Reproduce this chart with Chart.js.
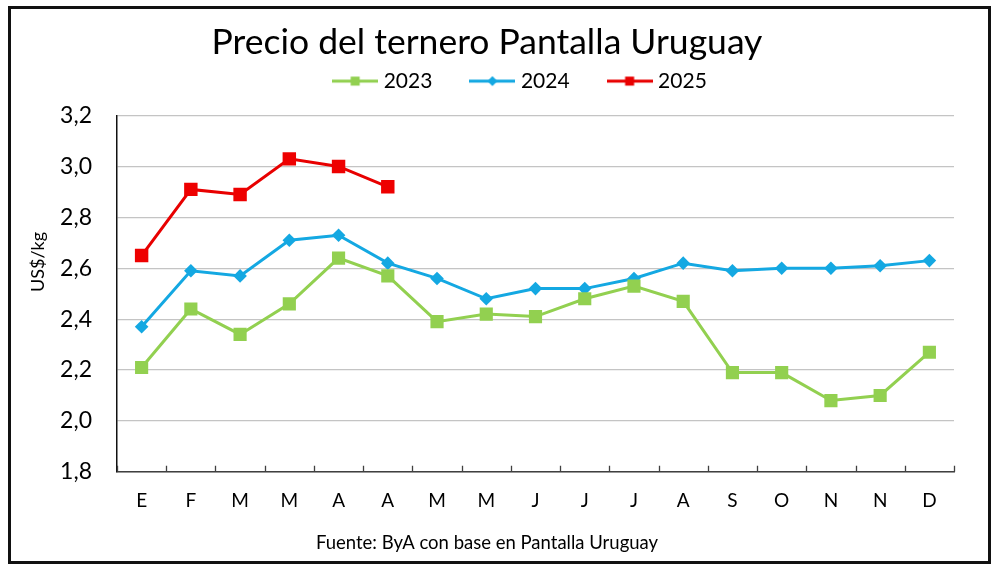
<!DOCTYPE html>
<html>
<head>
<meta charset="utf-8">
<script src="https://cdn.jsdelivr.net/npm/chart.js@4"></script>
<style>
  html, body { margin: 0; padding: 0; background: #fff; }
  #wrap { position: relative; width: 1000px; height: 571px; }
  #marco { position: absolute; left: 8px; top: 6px; width: 983px; height: 558px;
           box-sizing: border-box; border: 3.5px solid #111; pointer-events: none; }
</style>
</head>
<body>
<div id="wrap">
  <canvas id="chart" width="1000" height="571"></canvas>
  <div id="marco"></div>
</div>
<script>
// datos
const meses = ['E', 'F', 'M', 'M', 'A', 'A', 'M', 'M', 'J', 'J', 'J', 'A', 'S', 'O', 'N', 'N', 'D'];
const serie2023 = [2.21, 2.44, 2.34, 2.46, 2.64, 2.57, 2.39, 2.42, 2.41, 2.48, 2.53, 2.47, 2.19, 2.19, 2.08, 2.10, 2.27];
const serie2024 = [2.37, 2.59, 2.57, 2.71, 2.73, 2.62, 2.56, 2.48, 2.52, 2.52, 2.56, 2.62, 2.59, 2.60, 2.60, 2.61, 2.63];
const serie2025 = [2.65, 2.91, 2.89, 3.03, 3.00, 2.92];
const ejeMin = 1.8;
const ejeMax = 3.2;
const paso = 0.2;

const FONT = 'Lato, "Open Sans", sans-serif';

// icono de leyenda: linea con marcador
function iconoLeyenda(color, forma) {
  const c = document.createElement('canvas');
  c.width = 46;
  c.height = 12;
  const g = c.getContext('2d');
  g.strokeStyle = color;
  g.lineWidth = 3;
  g.beginPath();
  g.moveTo(0, 6);
  g.lineTo(46, 6);
  g.stroke();
  g.fillStyle = color;
  if (forma === 'rombo') {
    g.beginPath();
    g.moveTo(23, 1);
    g.lineTo(28, 6);
    g.lineTo(23, 11);
    g.lineTo(18, 6);
    g.closePath();
    g.fill();
  } else {
    g.fillRect(18.5, 1.5, 9, 9);
  }
  return c;
}

const iconos = [
  iconoLeyenda('#92d050', 'cuadro'),
  iconoLeyenda('#14a8e2', 'rombo'),
  iconoLeyenda('#e80000', 'cuadro')
];

// marcas cortas hacia arriba entre categorias
const marcasEje = {
  id: 'marcasEje',
  afterDraw(chart) {
    const x = chart.scales.x;
    const ctx = chart.ctx;
    const paso = x.getPixelForValue(1) - x.getPixelForValue(0);
    const base = chart.chartArea.bottom;
    ctx.save();
    ctx.strokeStyle = '#404040';
    ctx.lineWidth = 1.3;
    ctx.beginPath();
    for (let i = 0; i <= meses.length; i++) {
      const px = Math.round(x.getPixelForValue(i) - paso / 2) + 0.5;
      ctx.moveTo(px, base);
      ctx.lineTo(px, base - 6);
    }
    ctx.stroke();
    ctx.restore();
  }
};

// titulo del eje y
const tituloY = {
  id: 'tituloY',
  afterDraw(chart) {
    const ctx = chart.ctx;
    ctx.save();
    ctx.translate(38, 262);
    ctx.rotate(-Math.PI / 2);
    ctx.font = '18px ' + FONT;
    ctx.fillStyle = '#000';
    ctx.textAlign = 'center';
    ctx.textBaseline = 'middle';
    ctx.fillText('US$/kg', 0, 0);
    ctx.restore();
  }
};

const ajusteLeyenda = {
  id: 'ajusteLeyenda',
  beforeInit(chart) {
    const fit = chart.legend.fit;
    chart.legend.fit = function () {
      fit.bind(chart.legend)();
      this.height += 14;
    };
  },
  afterLayout(chart) {
    chart.legend.left += 35;
    chart.legend.right += 35;
  }
};

const ctx = document.getElementById('chart').getContext('2d');
new Chart(ctx, {
  type: 'line',
  data: {
    labels: meses,
    datasets: [
      {
        label: '2023',
        data: serie2023,
        borderColor: '#92d050',
        backgroundColor: '#92d050',
        borderWidth: 3,
        pointStyle: 'rect',
        pointRadius: 9.3,
        pointBorderWidth: 0,
        tension: 0
      },
      {
        label: '2024',
        data: serie2024,
        borderColor: '#14a8e2',
        backgroundColor: '#14a8e2',
        borderWidth: 3,
        pointStyle: 'rectRot',
        pointRadius: 6.8,
        pointBorderWidth: 0,
        tension: 0
      },
      {
        label: '2025',
        data: serie2025,
        borderColor: '#e80000',
        backgroundColor: '#ee0000',
        borderWidth: 3,
        pointStyle: 'rect',
        pointRadius: 9.5,
        pointBorderWidth: 0,
        tension: 0
      }
    ]
  },
  options: {
    responsive: false,
    animation: false,
    layout: {
      padding: { left: 20, right: 46, top: 0, bottom: 0 }
    },
    scales: {
      x: {
        offset: true,
        grid: { display: false, drawTicks: false },
        border: { display: true, color: '#404040', width: 1.5 },
        ticks: {
          color: '#000',
          font: { family: FONT, size: 19 },
          padding: 18,
          autoSkip: false,
          maxRotation: 0
        },
        afterFit(scale) {
          scale.height = 56;
        }
      },
      y: {
        min: ejeMin,
        max: ejeMax,
        ticks: {
          stepSize: paso,
          color: '#000',
          font: { family: FONT, size: 23 },
          padding: 25,
          callback: (v) => v.toFixed(1).replace('.', ',')
        },
        grid: { color: '#c4c4c4', lineWidth: 1.2, drawTicks: false },
        border: { display: true, color: '#111', width: 1.5 },
        afterFit(scale) {
          scale.width = 97;
        }
      }
    },
    plugins: {
      title: {
        display: true,
        text: 'Precio del ternero Pantalla Uruguay',
        color: '#000',
        font: { family: FONT, size: 35.5, weight: 'normal' },
        padding: { top: 21, bottom: -35 }
      },
      legend: {
        display: true,
        position: 'top',
        labels: {
          usePointStyle: true,
          pointStyleWidth: 36,
          color: '#000',
          font: { family: FONT, size: 21 },
          padding: 42,
          generateLabels(chart) {
            const base = Chart.defaults.plugins.legend.labels.generateLabels(chart);
            base.forEach((l, i) => { l.pointStyle = iconos[i]; });
            return base;
          }
        }
      },
      subtitle: {
        display: true,
        position: 'bottom',
        text: 'Fuente: ByA con base en Pantalla Uruguay',
        color: '#000',
        font: { family: FONT, size: 18.5 },
        padding: { top: 4, bottom: 17 }
      },
      tooltip: { enabled: false }
    }
  },
  plugins: [marcasEje, tituloY, ajusteLeyenda]
});
</script>
</body>
</html>
